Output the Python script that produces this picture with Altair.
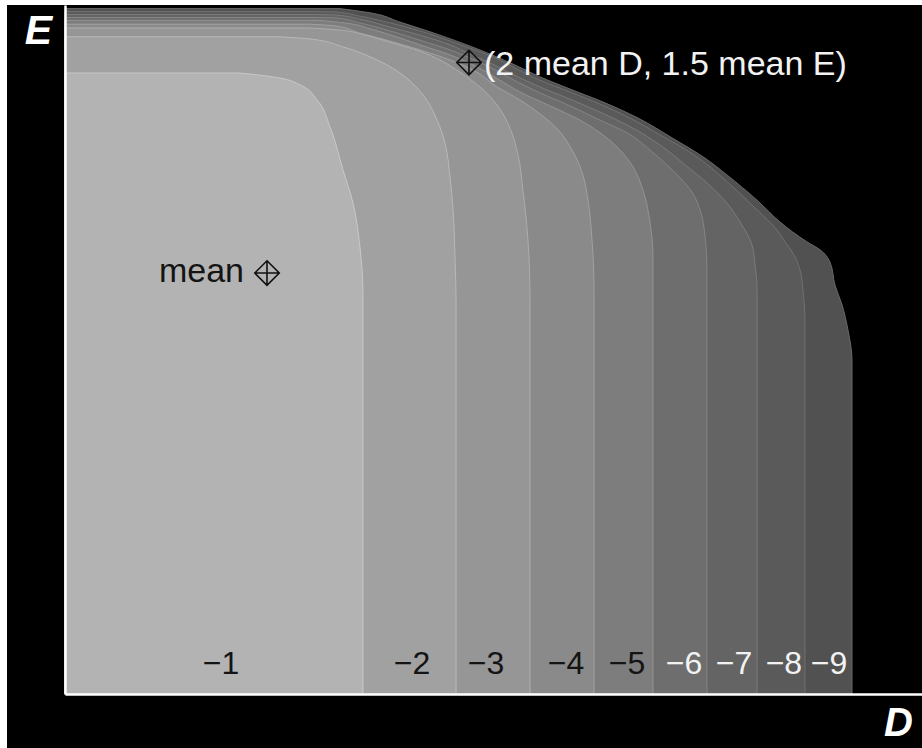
import altair as alt
import pandas as pd

# ---- contour boundaries (D in units of mean D, E in units of mean E), bottom -> top ----
c1_D = [1.475, 1.475, 1.460, 1.426, 1.376, 1.312, 1.248, 1.163, 1.064, 0.965, 0.866]
c1_E = [0.000, 0.952, 1.062, 1.166, 1.245, 1.347, 1.411, 1.447, 1.463, 1.470, 1.475]

c2_D = [1.936, 1.936, 1.931, 1.921, 1.906, 1.881, 1.842, 1.772, 1.683, 1.545, 1.376, 1.213, 1.064]
c2_E = [0.000, 0.936, 1.031, 1.150, 1.228, 1.309, 1.363, 1.423, 1.466, 1.506, 1.537, 1.556, 1.561]

c3_D = [2.302, 2.302, 2.292, 2.267, 2.243, 2.203, 2.139, 2.054, 1.955, 1.856, 1.757, 1.624, 1.485, 1.361, 1.213]
c3_E = [0.000, 0.936, 1.078, 1.197, 1.280, 1.344, 1.399, 1.442, 1.477, 1.506, 1.527, 1.546, 1.565, 1.577, 1.582]

c4_D = [2.619, 2.619, 2.609, 2.589, 2.559, 2.510, 2.441, 2.351, 2.252, 2.139, 2.020, 1.906, 1.757, 1.609, 1.460, 1.337, 1.213]
c4_E = [0.000, 0.960, 1.078, 1.173, 1.240, 1.292, 1.340, 1.378, 1.411, 1.442, 1.482, 1.506, 1.530, 1.551, 1.570, 1.587, 1.591]

c5_D = [2.911, 2.911, 2.896, 2.861, 2.812, 2.748, 2.649, 2.550, 2.401, 2.252, 2.153, 2.030, 1.906, 1.757, 1.658, 1.510, 1.386, 1.262]
c5_E = [0.000, 1.031, 1.121, 1.197, 1.252, 1.292, 1.333, 1.363, 1.397, 1.430, 1.458, 1.492, 1.518, 1.542, 1.558, 1.580, 1.594, 1.600]

c6_D = [3.178, 3.178, 3.168, 3.144, 3.104, 3.045, 2.970, 2.896, 2.782, 2.649, 2.500, 2.351, 2.203, 2.104, 2.005, 1.906, 1.757, 1.609, 1.460, 1.337, 1.213]
c6_E = [0.000, 1.007, 1.090, 1.150, 1.192, 1.226, 1.261, 1.292, 1.333, 1.363, 1.397, 1.428, 1.463, 1.489, 1.511, 1.530, 1.553, 1.575, 1.594, 1.606, 1.607]

c7_D = [3.426, 3.426, 3.416, 3.401, 3.342, 3.277, 3.178, 3.059, 2.980, 2.812, 2.649, 2.500, 2.351, 2.203, 2.104, 2.005, 1.906, 1.757, 1.609, 1.460, 1.337, 1.213]
c7_E = [0.000, 0.960, 1.019, 1.067, 1.121, 1.166, 1.214, 1.261, 1.292, 1.344, 1.382, 1.413, 1.442, 1.475, 1.499, 1.520, 1.542, 1.565, 1.584, 1.603, 1.613, 1.614]

c8_D = [3.663, 3.663, 3.653, 3.639, 3.609, 3.569, 3.525, 3.426, 3.307, 3.193, 3.094, 2.946, 2.797, 2.649, 2.500, 2.351, 2.228, 2.129, 2.005, 1.906, 1.757, 1.609, 1.460, 1.337, 1.213]
c8_E = [0.000, 0.888, 0.960, 1.007, 1.043, 1.071, 1.102, 1.150, 1.204, 1.252, 1.287, 1.328, 1.368, 1.401, 1.430, 1.458, 1.487, 1.511, 1.534, 1.551, 1.575, 1.594, 1.610, 1.620, 1.621]

c9_D = [3.896, 3.896, 3.876, 3.847, 3.812, 3.787, 3.738, 3.673, 3.540, 3.426, 3.277, 3.168, 3.005, 2.837, 2.649, 2.500, 2.351, 2.228, 2.129, 2.005, 1.856, 1.658, 1.510, 1.361]
c9_E = [0.000, 0.793, 0.865, 0.924, 0.971, 1.026, 1.055, 1.074, 1.121, 1.173, 1.233, 1.273, 1.321, 1.368, 1.409, 1.437, 1.466, 1.494, 1.515, 1.539, 1.565, 1.596, 1.618, 1.628]

contours_D = [c1_D, c2_D, c3_D, c4_D, c5_D, c6_D, c7_D, c8_D, c9_D]
contours_E = [c1_E, c2_E, c3_E, c4_E, c5_E, c6_E, c7_E, c8_E, c9_E]

# ---- level labels ----
level_text = ["\u22121", "\u22122", "\u22123", "\u22124", "\u22125", "\u22126", "\u22127", "\u22128", "\u22129"]
label_D = [0.772, 1.718, 2.084, 2.480, 2.782, 3.064, 3.312, 3.559, 3.782]
label_E = 0.0475

# ---- reference points ----
point_D = [1.0, 2.0]
point_E = [1.0, 1.5]

# ---- styles ----
fills = ["#b3b3b3", "#a1a1a1", "#969696", "#8a8a8a", "#7d7d7d", "#6e6e6e", "#646464", "#5a5a5a", "#515151"]
edges = ["#c9c9c9", "#b9b9b9", "#adadad", "#a1a1a1", "#939393", "#858585", "#7b7b7b", "#717171", "#696969"]
label_colors = ["#141414"] * 5 + ["#f2f2f2"] * 4
FONT = "Liberation Sans"

W, H = 857, 689
xscale = alt.Scale(domain=[0, 4.2426], nice=False, zero=False)
yscale = alt.Scale(domain=[0, 1.6366], nice=False, zero=False)

xaxis = alt.Axis(domain=True, domainColor="white", domainWidth=2.5, ticks=False, labels=False,
                 grid=False, title="D", titleColor="white", titleFont=FONT, titleFontSize=40,
                 titleFontStyle="italic", titleFontWeight="bold", titleAngle=0, titleX=833, titleY=41,
                 titleAlign="center", titleBaseline="alphabetic", zindex=1)
yaxis = alt.Axis(domain=True, domainColor="white", domainWidth=2.5, ticks=False, labels=False,
                 grid=False, title="E", titleColor="white", titleFont=FONT, titleFontSize=41,
                 titleFontStyle="italic", titleFontWeight="bold", titleAngle=0, titleX=-27, titleY=38,
                 titleAlign="center", titleBaseline="alphabetic", zindex=1)


def enc_x(field="D"):
    return alt.X(f"{field}:Q", stack=None, scale=xscale, axis=xaxis)


def enc_y(field="E"):
    return alt.Y(f"{field}:Q", scale=yscale, axis=yaxis)


layers = []
for i in reversed(range(9)):
    df = pd.DataFrame({"D": contours_D[i], "E": contours_E[i]})
    layers.append(
        alt.Chart(df).mark_area(orient="horizontal", interpolate="monotone", fill=fills[i],
                                stroke=edges[i], strokeWidth=1, opacity=1)
        .encode(x=enc_x(), y=enc_y())
    )

lab_df = pd.DataFrame({"D": label_D, "E": [label_E] * 9, "t": level_text, "c": label_colors})
labels = alt.Chart(lab_df).mark_text(font=FONT, fontSize=32, align="center", baseline="alphabetic").encode(
    x=enc_x(), y=enc_y(), text="t:N", color=alt.Color("c:N", scale=None)
)

pts_df = pd.DataFrame({"D": point_D, "E": point_E})
markers = alt.Chart(pts_df).mark_point(
    shape="M0,-1L1,0L0,1L-1,0Z M0,-1L0,1 M-1,0L1,0", filled=False, stroke="#111111",
    strokeWidth=1.6, size=600, opacity=1
).encode(x=enc_x(), y=enc_y())

mean_df = pd.DataFrame({"D": point_D[:1], "E": point_E[:1], "t": ["mean"]})
mean_txt = alt.Chart(mean_df).mark_text(font=FONT, fontSize=34, align="right", baseline="alphabetic",
                                        dx=-23, dy=9, color="#141414").encode(x=enc_x(), y=enc_y(), text="t:N")

two_df = pd.DataFrame({"D": point_D[1:], "E": point_E[1:], "t": ["(2 mean D, 1.5 mean E)"]})
two_txt = alt.Chart(two_df).mark_text(font=FONT, fontSize=34, align="left", baseline="alphabetic",
                                      dx=15, dy=12, color="#f2f2f2").encode(x=enc_x(), y=enc_y(), text="t:N")

# thin white scan border on the left and top of the figure
one = pd.DataFrame({"k": [0]})
left_strip = alt.Chart(one).mark_rect(color="white").encode(
    x=alt.value(-65), x2=alt.value(-58), y=alt.value(-5), y2=alt.value(743))
top_strip = alt.Chart(one).mark_rect(color="white").encode(
    x=alt.value(-65), x2=alt.value(857), y=alt.value(-5), y2=alt.value(0))

chart = alt.layer(*layers, labels, markers, mean_txt, two_txt, left_strip, top_strip).properties(
    width=W, height=H,
    padding={"left": 65, "top": 5, "right": 0, "bottom": 54},
    background="black",
    autosize=alt.AutoSizeParams(type="none"),
).configure_view(stroke=None)

chart.save("out.html", embed_options={"renderer": "svg", "actions": False})
